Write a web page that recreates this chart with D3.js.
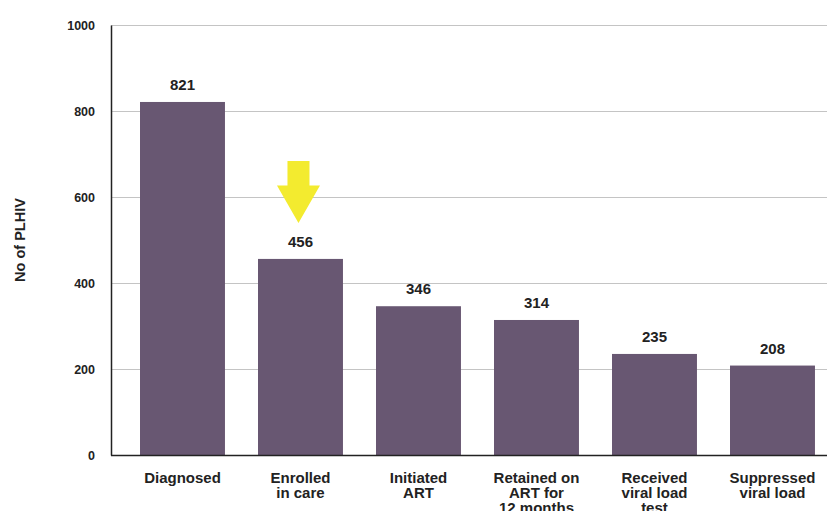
<!DOCTYPE html>
<html>
<head>
<meta charset="utf-8">
<script src="https://cdn.jsdelivr.net/npm/d3@7"></script>
<style>
  html, body { margin: 0; padding: 0; background: #fff; }
  svg text { font-family: "Liberation Sans", Arial, sans-serif; font-weight: bold; fill: #222; }
</style>
</head>
<body>
<svg id="chart" width="827" height="511"></svg>
<script>
// HIV care cascade: number of PLHIV at each stage
const categories = [
  ["Diagnosed"],
  ["Enrolled", "in care"],
  ["Initiated", "ART"],
  ["Retained on", "ART for", "12 months"],
  ["Received", "viral load", "test"],
  ["Suppressed", "viral load"]
];
const values = [821, 456, 346, 314, 235, 208];
const yTicks = [0, 200, 400, 600, 800, 1000];
const yTitle = "No of PLHIV";
const highlightIndex = 1; // stage marked with the arrow

const svg = d3.select("#chart");
const margin = { left: 111, top: 25, bottom: 56 };
const W = 827, H = 511;
const plotBottom = H - margin.bottom; // 455

// band scale: step 118px, bars 85px wide, first bar at x=140
const x = d3.scaleBand()
  .domain(d3.range(categories.length))
  .range([110.5, 110.5 + 118 * (categories.length - 0.28 + 0.5)])
  .paddingInner(0.28)
  .paddingOuter(0.25);

const y = d3.scaleLinear().domain([0, 1000]).range([plotBottom, margin.top]);

// horizontal gridlines
svg.append("g")
  .selectAll("line")
  .data(yTicks.filter(d => d > 0))
  .join("line")
  .attr("x1", margin.left).attr("x2", W)
  .attr("y1", d => y(d) + 0.5).attr("y2", d => y(d) + 0.5)
  .attr("stroke", "#c4c4c4").attr("stroke-width", 1);

// y axis
const yAxis = svg.append("g")
  .attr("transform", `translate(${margin.left},0)`)
  .call(d3.axisLeft(y).tickValues(yTicks).tickSize(0).tickPadding(16).tickFormat(d3.format("d")));
yAxis.select(".domain").attr("stroke", "#222").attr("stroke-width", 1.5);
yAxis.selectAll("text")
  .attr("font-size", 12.5)
  .style("font-family", "Liberation Sans, Arial, sans-serif")
  .style("font-weight", "bold")
  .attr("fill", "#222");

// bars
svg.append("g")
  .selectAll("rect")
  .data(values)
  .join("rect")
  .attr("x", (d, i) => x(i))
  .attr("width", x.bandwidth())
  .attr("y", d => y(d))
  .attr("height", d => plotBottom - y(d))
  .attr("fill", "#685772");

// baseline
svg.append("line")
  .attr("x1", margin.left).attr("x2", W)
  .attr("y1", plotBottom + 0.5).attr("y2", plotBottom + 0.5)
  .attr("stroke", "#222").attr("stroke-width", 1.5);

// value labels
svg.append("g")
  .selectAll("text")
  .data(values)
  .join("text")
  .attr("x", (d, i) => x(i) + x.bandwidth() / 2)
  .attr("y", d => y(d) - 12)
  .attr("text-anchor", "middle")
  .attr("font-size", 15)
  .text(d => d);

// category labels
const cat = svg.append("g")
  .selectAll("text")
  .data(categories)
  .join("text")
  .attr("x", (d, i) => x(i) + x.bandwidth() / 2)
  .attr("y", 482.5)
  .attr("text-anchor", "middle")
  .attr("font-size", 15);
cat.selectAll("tspan")
  .data(d => d)
  .join("tspan")
  .attr("x", function() { return this.parentNode.getAttribute("x"); })
  .attr("dy", (d, j) => j === 0 ? 0 : 15)
  .text(d => d);

// y axis title
svg.append("text")
  .attr("transform", `translate(24.5,${(margin.top + plotBottom) / 2}) rotate(-90)`)
  .attr("text-anchor", "middle")
  .attr("font-size", 14.5)
  .text(yTitle);

// highlight arrow above the enrolled bar
const ax = x(highlightIndex) + x.bandwidth() / 2 - 2;
const tipY = y(values[highlightIndex]) - 36;
const arrow = d3.path();
arrow.moveTo(ax - 11, tipY - 62);
arrow.lineTo(ax + 11, tipY - 62);
arrow.lineTo(ax + 11, tipY - 37.5);
arrow.lineTo(ax + 21.5, tipY - 37.5);
arrow.lineTo(ax, tipY);
arrow.lineTo(ax - 21.5, tipY - 37.5);
arrow.lineTo(ax - 11, tipY - 37.5);
arrow.closePath();
svg.append("path").attr("d", arrow.toString()).attr("fill", "#f3eb2f");
</script>
</body>
</html>
